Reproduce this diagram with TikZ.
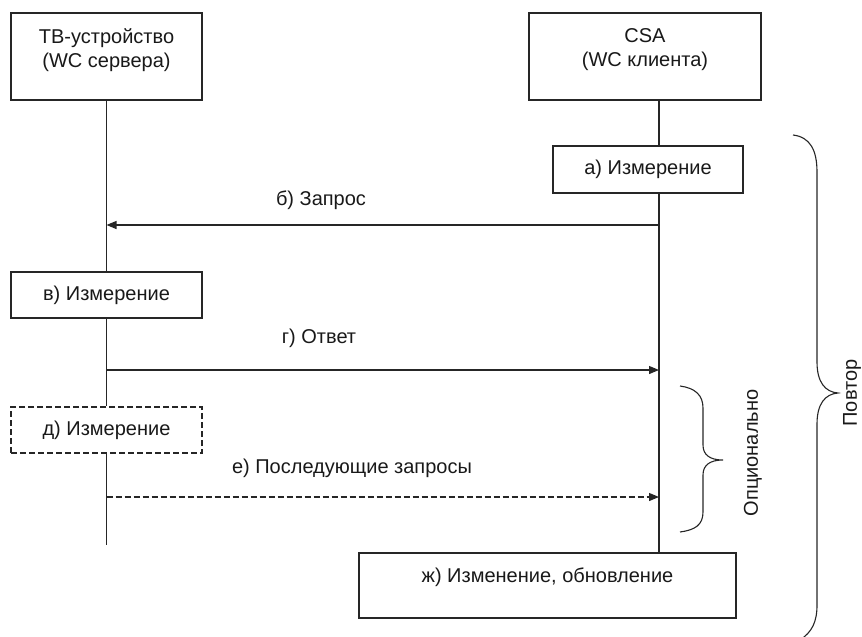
\documentclass[tikz,border=0pt]{standalone}
\usepackage{fontspec}
\setmainfont{Liberation Sans}
\usetikzlibrary{arrows.meta}
\begin{document}
\begin{tikzpicture}[x=1pt,y=-1pt,
  ln/.style={draw=black!85, line width=1.2pt},
  box/.style={ln, rectangle, inner sep=0pt, fill=white, font=\fontsize{20}{24}\selectfont, text=black!90},
  dbox/.style={box, dash pattern=on 6pt off 3pt},
  txt/.style={inner sep=0pt, font=\fontsize{20}{24}\selectfont, text=black!90},
  msg/.style={ln, -{Triangle[length=10pt,width=8pt]}},
  dmsg/.style={msg, dash pattern=on 6pt off 3pt},
  brace/.style={ln, line width=1.1pt}]
\useasboundingbox (0,0) rectangle (862,637);
% header boxes
\node[box, minimum width=191pt, minimum height=87pt] (tv) at (106.5,56.5) {};
\node[txt, align=center] (tvt) at (106.5,50) {ТВ-устройство\\(WC сервера)};
\node[box, minimum width=232pt, minimum height=87pt] (csa) at (645,56.5) {};
\node[txt, align=center] (csat) at (645,50) {CSA\\(WC клиента)};
% activity boxes
\node[box, minimum width=190pt, minimum height=47pt] (a) at (648,169.5) {а) Измерение};
\node[box, minimum width=191pt, minimum height=46pt] (v) at (106.5,295) {в) Измерение};
\node[dbox, minimum width=191pt, minimum height=46pt] (d) at (106.5,430) {д) Измерение};
\node[box, minimum width=377pt, text height=29pt, text depth=36pt] (zh) at (547.5,585.5) {ж) Изменение, обновление};
% lifelines
\coordinate (R) at (659,0);
\coordinate (Lend) at (106.5,545);
\draw[ln] (tv.south) -- (v.north);
\draw[ln] (v.south) -- (d.north);
\draw[ln] (d.south) -- (Lend);
\draw[ln] (csa.south -| R) -- (a.north -| R);
\draw[ln] (a.south -| R) -- (zh.north -| R);
% messages
\coordinate (b1) at (659,225);
\coordinate (g1) at (106.5,370);
\coordinate (e1) at (106.5,497);
\draw[msg] (b1) -- (b1 -| v.north);
\node[txt, anchor=base] (bl) at (321,205) {б) Запрос};
\draw[msg] (g1) -- (g1 -| R);
\node[txt, anchor=base] (gl) at (319,343) {г) Ответ};
\draw[dmsg] (e1) -- (e1 -| R);
\node[txt, anchor=base] (el) at (352,473) {е) Последующие запросы};
% braces
\draw[brace] (680,386) .. controls (695,388) and (703,395) .. (703,408) -- (703,445)
  .. controls (703,455) and (710,460) .. (723,460)
  .. controls (710,460) and (703,465) .. (703,475) -- (703,512)
  .. controls (703,525) and (695,530) .. (680,532);
\node[txt, rotate=90] (opt) at (753,453) {Опционально};
\draw[brace] (793,135) .. controls (810,137) and (817,150) .. (817,172) -- (817,362)
  .. controls (817,382) and (825,392) .. (838,393)
  .. controls (825,394) and (817,404) .. (817,424) -- (817,605)
  .. controls (817,622) and (812,632) .. (800,640);
\node[txt, rotate=90] (rep) at (852,393) {Повтор};
\end{tikzpicture}
\end{document}
